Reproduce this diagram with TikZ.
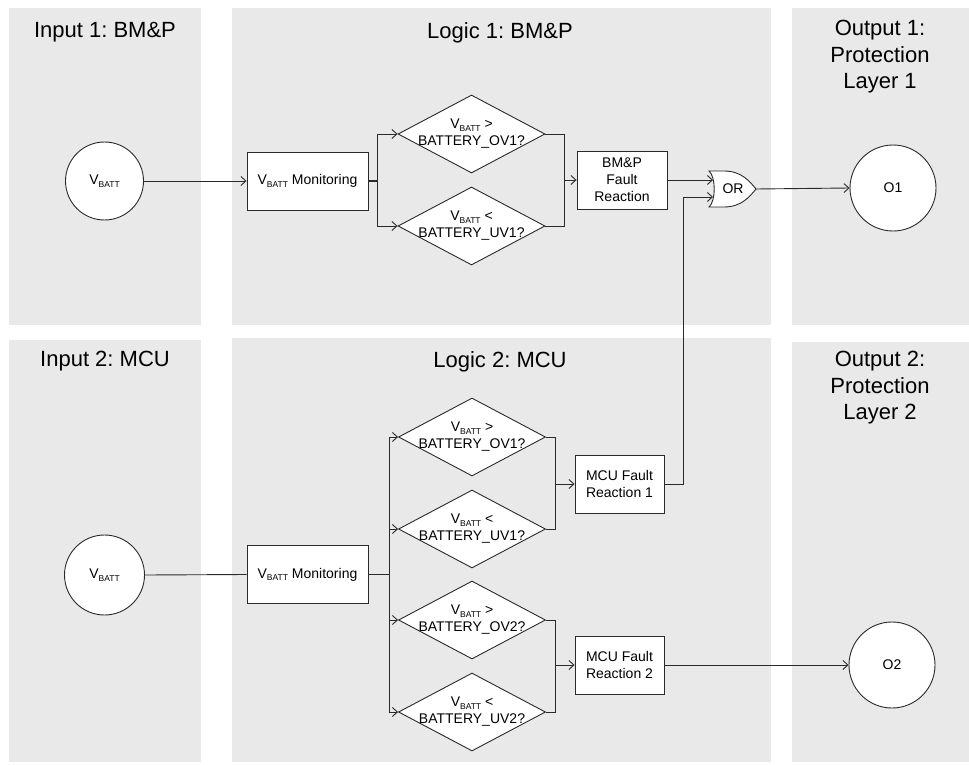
\documentclass[tikz,border=0pt]{standalone}
\usepackage{fontspec}
\setmainfont{Liberation Sans}
\usetikzlibrary{shapes.geometric,arrows.meta,calc}
\definecolor{panel}{HTML}{E9E9E9}
\definecolor{ink}{HTML}{2A2A2A}
\newcommand{\Vbatt}{V\raisebox{-2.5pt}{\fontsize{8.5}{9}\selectfont BATT}}
\frenchspacing

\begin{document}
\begin{tikzpicture}[x=1pt,y=-1pt,
  every node/.style={font=\fontsize{14}{17}\selectfont, text=black},
  title/.style={font=\fontsize{22}{26.5}\selectfont, align=center, inner sep=0, anchor=north},
  box/.style={draw=ink, fill=white, line width=0.9pt, inner sep=0, align=center},
  port/.style={circle, draw=ink, fill=white, line width=0.9pt, inner sep=0},
  test/.style={diamond, draw=ink, fill=white, line width=0.9pt, inner sep=0,
               minimum width=147pt, minimum height=78pt},
  testtext/.style={inner sep=0, align=center},
  wire/.style={draw=ink, line width=0.9pt},
  flow/.style={wire, -{Straight Barb[length=5pt,width=9pt]}},
  stub/.style={draw=ink, line width=1.8pt},
]
\useasboundingbox (0,0) rectangle (969,765);

% background lanes
\fill[panel] (9,8) rectangle (201,325);
\fill[panel] (232,8) rectangle (771,325);
\fill[panel] (792,8) rectangle (969,325);
\fill[panel] (9,340) rectangle (201,762);
\fill[panel] (232,338) rectangle (771,762);
\fill[panel] (792,342) rectangle (969,762);

% lane titles
\node[title] (tin1) at (105,22) {Input 1: BM\&P};
\node[title] (tlg1) at (500,22) {Logic 1: BM\&P};
\node[title] (tout1) at (880,20) {Output 1:\\Protection\\Layer 1};
\node[title] (tin2) at (105,351) {Input 2: MCU};
\node[title] (tlg2) at (500,351) {Logic 2: MCU};
\node[title] (tout2) at (880,351) {Output 2:\\Protection\\Layer 2};

% ---------- BM&P chain ----------
\node[port, minimum size=78pt] (vin1) at (104.5,181) {\Vbatt};
\node[box, minimum width=121pt, minimum height=58pt] (mon1) at (307.5,181) {\Vbatt{} Monitoring};
\node[test] (d1) at (471.5,134) {};
\node[testtext] (d1t) at (d1.center) {\Vbatt{} >\\BATTERY\_OV1?};
\node[test] (d2) at (471.5,226) {};
\node[testtext] (d2t) at (d2.center) {\Vbatt{} <\\BATTERY\_UV1?};
\node[box, minimum width=90pt, minimum height=58pt] (bmp) at (622,180) {BM\&P\\Fault\\Reaction};
\node[port, minimum size=86pt] (o1) at (893,188) {O1};

% OR gate
\coordinate (gNW) at (709,171);
\coordinate (gSW) at (709,207);
\coordinate (gtip) at (756,189);
\coordinate (orin1) at (713,180);
\coordinate (orin2) at (713,197);
\draw[wire, fill=white] (gNW) -- (724,171) .. controls (742,171) and (750,182) .. (gtip)
  .. controls (750,196) and (742,207) .. (724,207) -- (gSW)
  .. controls (716,201) and (716,177) .. (gNW) -- cycle;
\node[inner sep=0] (orgate) at (733,189) {OR};

% ---------- MCU chain ----------
\node[port, minimum size=80pt] (vin2) at (104.5,575) {\Vbatt};
\node[box, minimum width=121pt, minimum height=58pt] (mon2) at (307.5,574.5) {\Vbatt{} Monitoring};
\node[test] (d3) at (472,437) {};
\node[testtext] (d3t) at (d3.center) {\Vbatt{} >\\BATTERY\_OV1?};
\node[test] (d4) at (472,529) {};
\node[testtext] (d4t) at (d4.center) {\Vbatt{} <\\BATTERY\_UV1?};
\node[test] (d5) at (472,620) {};
\node[testtext] (d5t) at (d5.center) {\Vbatt{} >\\BATTERY\_OV2?};
\node[test] (d6) at (472,712) {};
\node[testtext] (d6t) at (d6.center) {\Vbatt{} <\\BATTERY\_UV2?};
\node[box, minimum width=89pt, minimum height=58pt] (mcu1) at (619.5,484) {MCU Fault\\Reaction 1};
\node[box, minimum width=89pt, minimum height=58pt] (mcu2) at (619.5,665) {MCU Fault\\Reaction 2};
\node[port, minimum size=86pt] (o2) at (892,665) {O2};

% ---------- connectors: BM&P ----------
\draw[flow] (vin1.east) -- (mon1.west);
\draw[stub] (mon1.east) -- ++(9,0) coordinate (br1);
\draw[flow] (br1) |- (d1.west);
\draw[flow] (br1) |- (d2.west);
\coordinate (jn1) at (564,180);
\draw[wire] (d1.east) -| (jn1);
\draw[wire] (d2.east) -| (jn1);
\draw[flow] (jn1) -- (bmp.west);
\draw[flow] (bmp.east) -- (orin1);
\draw[flow] (gtip) -- (o1.west);

% ---------- connectors: MCU ----------
\draw[wire] (vin2.east) -- (mon2.west);
\draw[stub] (mon2.east) -- ++(21,0) coordinate (br2);
\draw[flow] (br2) |- (d3.west);
\draw[flow] (br2) |- (d4.west);
\draw[flow] (br2) |- (d5.west);
\draw[flow] (br2) |- (d6.west);
\coordinate (jn2) at (555,484);
\coordinate (jn3) at (555,665);
\draw[wire] (d3.east) -| (jn2);
\draw[wire] (d4.east) -| (jn2);
\draw[flow] (jn2) -- (mcu1.west);
\draw[wire] (d5.east) -| (jn3);
\draw[wire] (d6.east) -| (jn3);
\draw[flow] (jn3) -- (mcu2.west);
\draw[flow] (mcu1.east) -- ++(19,0) |- (orin2);
\draw[flow] (mcu2.east) -- (o2.west);
\end{tikzpicture}
\end{document}
